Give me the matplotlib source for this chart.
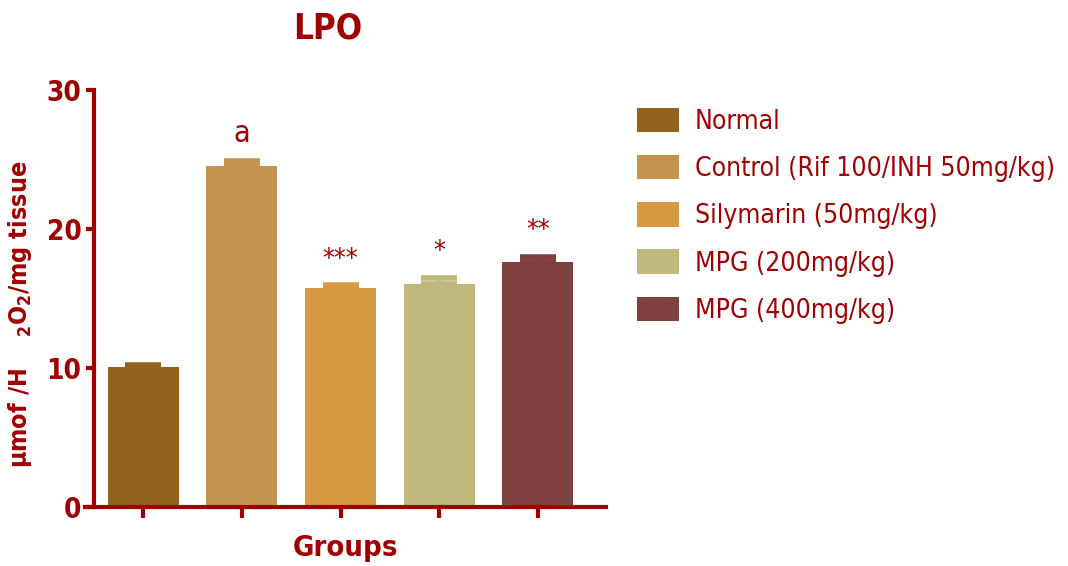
import numpy as np
import matplotlib
matplotlib.use('Agg')
import matplotlib.pyplot as plt
from matplotlib.patches import Patch

# LPO levels per treatment group (mean and SEM)
groups = ['Normal', 'Control (Rif 100/INH 50mg/kg)', 'Silymarin (50mg/kg)',
          'MPG (200mg/kg)', 'MPG (400mg/kg)']
means = [10.05, 24.5, 15.75, 16.05, 17.65]
sems = [0.2, 0.4, 0.2, 0.45, 0.35]
marks = ['', 'a', '***', '*', '**']
colors = ['#93621F', '#C4934F', '#D79A42', '#C0B77C', '#7F4040']

red = '#A00000'
plt.rcParams['font.family'] = ['DejaVu Sans']
plt.rcParams['font.stretch'] = 'condensed'
plt.rcParams['mathtext.fontset'] = 'dejavusans'

fig = plt.figure(figsize=(10.68, 5.66), dpi=100)
ax = fig.add_axes([85/1068, 1-507/566, 521/1068, 417/566])

x = np.arange(len(groups))
ax.bar(x, means, width=0.72, color=colors, zorder=2)
for xi, m, s, c in zip(x, means, sems, colors):
    ax.errorbar(xi, m, yerr=[[0], [s]], color=c, elinewidth=3, capsize=13,
                capthick=4, zorder=1)

# significance marks above the error bars
for xi, m, s, t in zip(x, means, sems, marks):
    if not t:
        continue
    size = 22 if t == 'a' else 19
    ax.text(xi, m + s + 0.9, t, ha='center', va='bottom', color=red, fontsize=size)

ax.set_xlim(-0.59, 4.69)
ax.set_ylim(0, 30)
ax.spines['top'].set_visible(False)
ax.spines['right'].set_visible(False)
ax.spines['left'].set_position(('data', -0.5))
for sp in ('left', 'bottom'):
    ax.spines[sp].set_color(red)
    ax.spines[sp].set_linewidth(3)
ax.spines['left'].set_capstyle('projecting')

ax.set_xticks(x)
ax.set_xticklabels([])
ax.set_yticks([0, 10, 20, 30])
ax.tick_params(axis='x', length=8, width=3, color=red)
ax.tick_params(axis='y', length=6, width=3, color=red, labelcolor=red,
               labelsize=20, pad=3)
for lab in ax.get_yticklabels():
    lab.set_fontweight('bold')

ax.set_xlabel('Groups', fontsize=21, fontweight='bold', color=red, labelpad=8)
ax.set_ylabel('µmof /H    $_\\mathbf{2}$O$_\\mathbf{2}$/mg tissue', fontsize=18,
              fontweight='bold', color=red)
ax.yaxis.set_label_coords(-0.097, 0.463)
ax.set_title('LPO', fontsize=25, fontweight='bold', color=red, pad=37,
             x=0.465)

handles = [Patch(facecolor=c, edgecolor='none') for c in colors]
leg = fig.legend(handles, groups, loc='upper left',
                 bbox_to_anchor=(626/1068, 1-97/566), frameon=False,
                 fontsize=19, labelcolor=red, handlelength=1.6,
                 handleheight=1.05, handletextpad=0.6, labelspacing=0.76,
                 borderaxespad=0)

fig.savefig('out.png', dpi=100)
